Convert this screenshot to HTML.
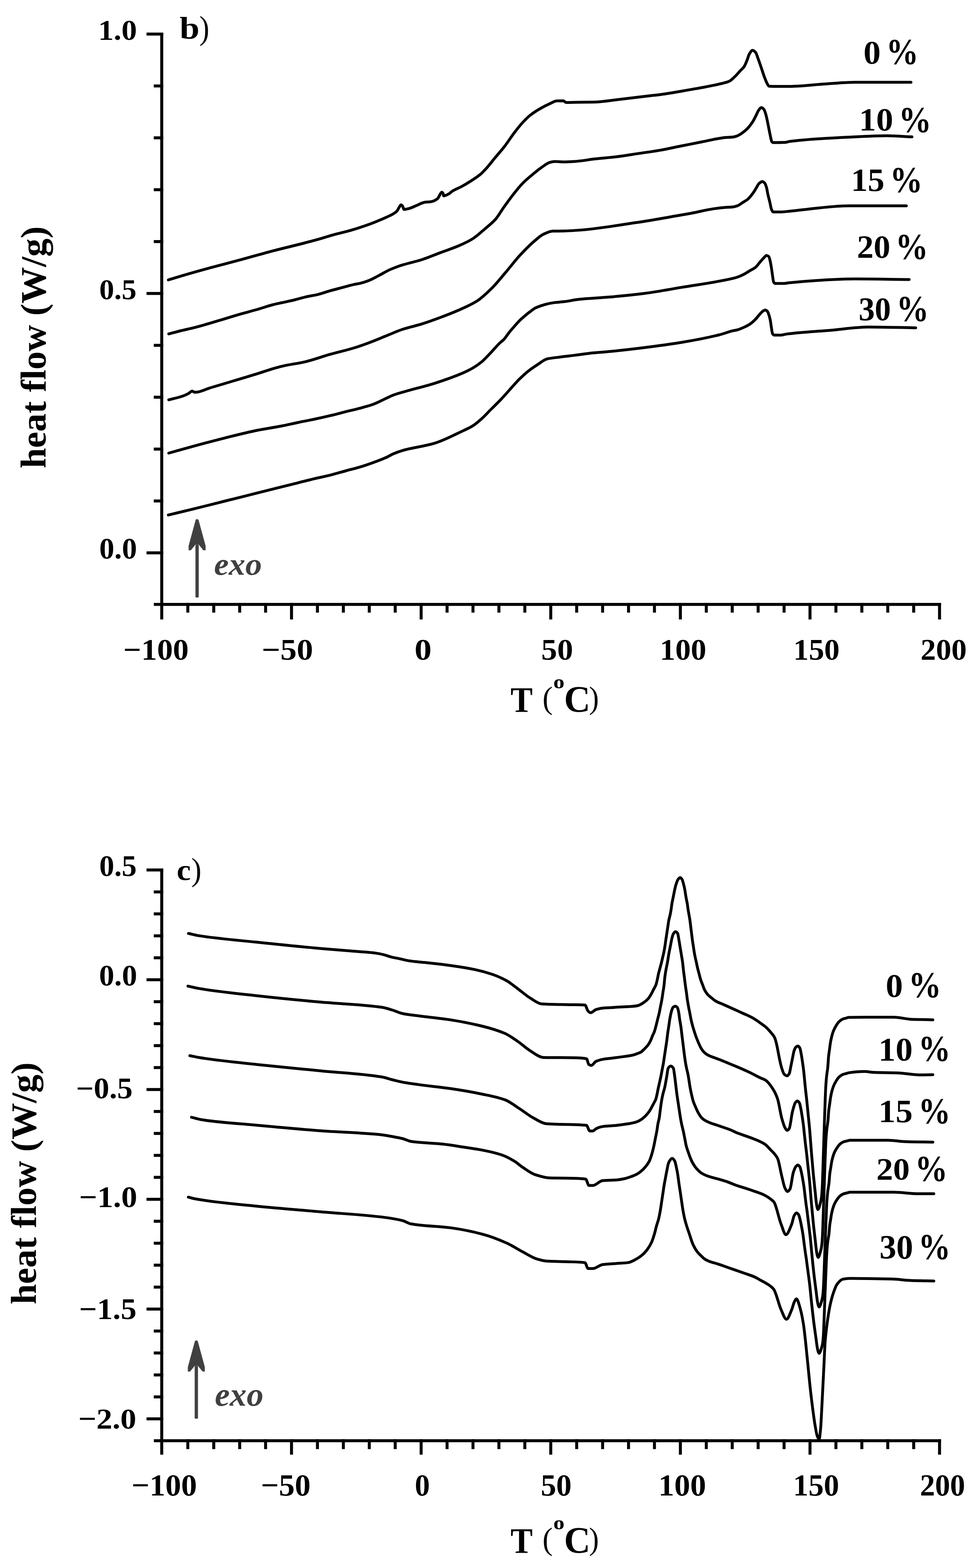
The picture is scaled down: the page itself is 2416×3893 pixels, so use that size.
<!DOCTYPE html>
<html><head><meta charset="utf-8"><title>DSC heat flow curves</title>
<style>html,body{margin:0;padding:0;background:#fff;}svg{display:block;}</style>
</head><body>
<svg xmlns="http://www.w3.org/2000/svg" width="2416" height="3893" viewBox="0 0 2416 3893" font-family="'Liberation Serif', 'DejaVu Serif', serif">
<rect width="2416" height="3893" fill="#fff"/>
<rect x="397.90" y="81.00" width="7.40" height="1423.30" fill="#000"/>
<rect x="382.00" y="1496.90" width="1954.60" height="7.40" fill="#000"/>
<rect x="363.80" y="80.90" width="41.50" height="7.40" fill="#000"/>
<rect x="363.80" y="724.90" width="41.50" height="7.40" fill="#000"/>
<rect x="363.80" y="1368.90" width="41.50" height="7.40" fill="#000"/>
<rect x="381.80" y="209.70" width="23.50" height="7.40" fill="#000"/>
<rect x="381.80" y="338.50" width="23.50" height="7.40" fill="#000"/>
<rect x="381.80" y="467.30" width="23.50" height="7.40" fill="#000"/>
<rect x="381.80" y="596.10" width="23.50" height="7.40" fill="#000"/>
<rect x="381.80" y="853.70" width="23.50" height="7.40" fill="#000"/>
<rect x="381.80" y="982.50" width="23.50" height="7.40" fill="#000"/>
<rect x="381.80" y="1111.30" width="23.50" height="7.40" fill="#000"/>
<rect x="381.80" y="1240.10" width="23.50" height="7.40" fill="#000"/>
<rect x="397.90" y="1496.90" width="7.40" height="41.10" fill="#000"/>
<rect x="462.67" y="1496.90" width="7.40" height="24.10" fill="#000"/>
<rect x="527.04" y="1496.90" width="7.40" height="24.10" fill="#000"/>
<rect x="591.41" y="1496.90" width="7.40" height="24.10" fill="#000"/>
<rect x="655.78" y="1496.90" width="7.40" height="24.10" fill="#000"/>
<rect x="720.15" y="1496.90" width="7.40" height="41.10" fill="#000"/>
<rect x="784.52" y="1496.90" width="7.40" height="24.10" fill="#000"/>
<rect x="848.89" y="1496.90" width="7.40" height="24.10" fill="#000"/>
<rect x="913.26" y="1496.90" width="7.40" height="24.10" fill="#000"/>
<rect x="977.63" y="1496.90" width="7.40" height="24.10" fill="#000"/>
<rect x="1042.00" y="1496.90" width="7.40" height="41.10" fill="#000"/>
<rect x="1106.37" y="1496.90" width="7.40" height="24.10" fill="#000"/>
<rect x="1170.74" y="1496.90" width="7.40" height="24.10" fill="#000"/>
<rect x="1235.11" y="1496.90" width="7.40" height="24.10" fill="#000"/>
<rect x="1299.48" y="1496.90" width="7.40" height="24.10" fill="#000"/>
<rect x="1363.85" y="1496.90" width="7.40" height="41.10" fill="#000"/>
<rect x="1428.22" y="1496.90" width="7.40" height="24.10" fill="#000"/>
<rect x="1492.59" y="1496.90" width="7.40" height="24.10" fill="#000"/>
<rect x="1556.96" y="1496.90" width="7.40" height="24.10" fill="#000"/>
<rect x="1621.33" y="1496.90" width="7.40" height="24.10" fill="#000"/>
<rect x="1685.70" y="1496.90" width="7.40" height="41.10" fill="#000"/>
<rect x="1750.07" y="1496.90" width="7.40" height="24.10" fill="#000"/>
<rect x="1814.44" y="1496.90" width="7.40" height="24.10" fill="#000"/>
<rect x="1878.81" y="1496.90" width="7.40" height="24.10" fill="#000"/>
<rect x="1943.18" y="1496.90" width="7.40" height="24.10" fill="#000"/>
<rect x="2007.55" y="1496.90" width="7.40" height="41.10" fill="#000"/>
<rect x="2071.92" y="1496.90" width="7.40" height="24.10" fill="#000"/>
<rect x="2136.29" y="1496.90" width="7.40" height="24.10" fill="#000"/>
<rect x="2200.66" y="1496.90" width="7.40" height="24.10" fill="#000"/>
<rect x="2265.03" y="1496.90" width="7.40" height="24.10" fill="#000"/>
<rect x="2329.20" y="1496.90" width="7.40" height="41.10" fill="#000"/>
<rect x="397.90" y="2156.60" width="7.40" height="1424.10" fill="#000"/>
<rect x="382.00" y="3573.30" width="1954.60" height="7.40" fill="#000"/>
<rect x="363.80" y="2156.25" width="41.50" height="7.40" fill="#000"/>
<rect x="363.80" y="2428.80" width="41.50" height="7.40" fill="#000"/>
<rect x="363.80" y="2701.35" width="41.50" height="7.40" fill="#000"/>
<rect x="363.80" y="2973.90" width="41.50" height="7.40" fill="#000"/>
<rect x="363.80" y="3246.45" width="41.50" height="7.40" fill="#000"/>
<rect x="363.80" y="3519.00" width="41.50" height="7.40" fill="#000"/>
<rect x="381.80" y="2210.76" width="23.50" height="7.40" fill="#000"/>
<rect x="381.80" y="2265.27" width="23.50" height="7.40" fill="#000"/>
<rect x="381.80" y="2319.78" width="23.50" height="7.40" fill="#000"/>
<rect x="381.80" y="2374.29" width="23.50" height="7.40" fill="#000"/>
<rect x="381.80" y="2483.31" width="23.50" height="7.40" fill="#000"/>
<rect x="381.80" y="2537.82" width="23.50" height="7.40" fill="#000"/>
<rect x="381.80" y="2592.33" width="23.50" height="7.40" fill="#000"/>
<rect x="381.80" y="2646.84" width="23.50" height="7.40" fill="#000"/>
<rect x="381.80" y="2755.86" width="23.50" height="7.40" fill="#000"/>
<rect x="381.80" y="2810.37" width="23.50" height="7.40" fill="#000"/>
<rect x="381.80" y="2864.88" width="23.50" height="7.40" fill="#000"/>
<rect x="381.80" y="2919.39" width="23.50" height="7.40" fill="#000"/>
<rect x="381.80" y="3028.41" width="23.50" height="7.40" fill="#000"/>
<rect x="381.80" y="3082.92" width="23.50" height="7.40" fill="#000"/>
<rect x="381.80" y="3137.43" width="23.50" height="7.40" fill="#000"/>
<rect x="381.80" y="3191.94" width="23.50" height="7.40" fill="#000"/>
<rect x="381.80" y="3300.96" width="23.50" height="7.40" fill="#000"/>
<rect x="381.80" y="3355.47" width="23.50" height="7.40" fill="#000"/>
<rect x="381.80" y="3409.98" width="23.50" height="7.40" fill="#000"/>
<rect x="381.80" y="3464.49" width="23.50" height="7.40" fill="#000"/>
<rect x="397.90" y="3573.30" width="7.40" height="38.30" fill="#000"/>
<rect x="462.67" y="3573.30" width="7.40" height="24.50" fill="#000"/>
<rect x="527.04" y="3573.30" width="7.40" height="24.50" fill="#000"/>
<rect x="591.41" y="3573.30" width="7.40" height="24.50" fill="#000"/>
<rect x="655.78" y="3573.30" width="7.40" height="24.50" fill="#000"/>
<rect x="720.15" y="3573.30" width="7.40" height="38.30" fill="#000"/>
<rect x="784.52" y="3573.30" width="7.40" height="24.50" fill="#000"/>
<rect x="848.89" y="3573.30" width="7.40" height="24.50" fill="#000"/>
<rect x="913.26" y="3573.30" width="7.40" height="24.50" fill="#000"/>
<rect x="977.63" y="3573.30" width="7.40" height="24.50" fill="#000"/>
<rect x="1042.00" y="3573.30" width="7.40" height="38.30" fill="#000"/>
<rect x="1106.37" y="3573.30" width="7.40" height="24.50" fill="#000"/>
<rect x="1170.74" y="3573.30" width="7.40" height="24.50" fill="#000"/>
<rect x="1235.11" y="3573.30" width="7.40" height="24.50" fill="#000"/>
<rect x="1299.48" y="3573.30" width="7.40" height="24.50" fill="#000"/>
<rect x="1363.85" y="3573.30" width="7.40" height="38.30" fill="#000"/>
<rect x="1428.22" y="3573.30" width="7.40" height="24.50" fill="#000"/>
<rect x="1492.59" y="3573.30" width="7.40" height="24.50" fill="#000"/>
<rect x="1556.96" y="3573.30" width="7.40" height="24.50" fill="#000"/>
<rect x="1621.33" y="3573.30" width="7.40" height="24.50" fill="#000"/>
<rect x="1685.70" y="3573.30" width="7.40" height="38.30" fill="#000"/>
<rect x="1750.07" y="3573.30" width="7.40" height="24.50" fill="#000"/>
<rect x="1814.44" y="3573.30" width="7.40" height="24.50" fill="#000"/>
<rect x="1878.81" y="3573.30" width="7.40" height="24.50" fill="#000"/>
<rect x="1943.18" y="3573.30" width="7.40" height="24.50" fill="#000"/>
<rect x="2007.55" y="3573.30" width="7.40" height="38.30" fill="#000"/>
<rect x="2071.92" y="3573.30" width="7.40" height="24.50" fill="#000"/>
<rect x="2136.29" y="3573.30" width="7.40" height="24.50" fill="#000"/>
<rect x="2200.66" y="3573.30" width="7.40" height="24.50" fill="#000"/>
<rect x="2265.03" y="3573.30" width="7.40" height="24.50" fill="#000"/>
<rect x="2329.20" y="3573.30" width="7.40" height="38.30" fill="#000"/>
<text transform="translate(243.63,98.92) scale(1.0676,1)" font-size="72.21" font-weight="bold" font-style="normal" fill="#000">1.0</text>
<text transform="translate(246.53,742.92) scale(1.0243,1)" font-size="72.21" font-weight="bold" font-style="normal" fill="#000">0.5</text>
<text transform="translate(246.49,1387.20) scale(1.0206,1)" font-size="73.38" font-weight="bold" font-style="normal" fill="#000">0.0</text>
<text transform="translate(306.08,1638.45) scale(1.0497,1)" font-size="74.81" font-weight="bold" font-style="normal" fill="#000">−100</text>
<text transform="translate(649.73,1638.45) scale(1.0883,1)" font-size="74.81" font-weight="bold" font-style="normal" fill="#000">−50</text>
<text transform="translate(1029.21,1638.45) scale(1.1354,1)" font-size="74.81" font-weight="bold" font-style="normal" fill="#000">0</text>
<text transform="translate(1343.83,1638.45) scale(1.0577,1)" font-size="74.81" font-weight="bold" font-style="normal" fill="#000">50</text>
<text transform="translate(1638.13,1638.45) scale(1.0316,1)" font-size="74.81" font-weight="bold" font-style="normal" fill="#000">100</text>
<text transform="translate(1969.87,1638.45) scale(1.0248,1)" font-size="74.81" font-weight="bold" font-style="normal" fill="#000">150</text>
<text transform="translate(2285.75,1638.45) scale(1.0222,1)" font-size="74.81" font-weight="bold" font-style="normal" fill="#000">200</text>
<text transform="translate(246.61,2174.57) scale(1.0173,1)" font-size="73.04" font-weight="bold" font-style="normal" fill="#000">0.5</text>
<text transform="translate(246.07,2446.87) scale(1.0306,1)" font-size="73.33" font-weight="bold" font-style="normal" fill="#000">0.0</text>
<text transform="translate(188.85,2726.57) scale(1.0531,1)" font-size="73.33" font-weight="bold" font-style="normal" fill="#000">−0.5</text>
<text transform="translate(196.13,2997.15) scale(1.0658,1)" font-size="74.52" font-weight="bold" font-style="normal" fill="#000">−1.0</text>
<text transform="translate(196.18,3275.16) scale(1.0589,1)" font-size="74.07" font-weight="bold" font-style="normal" fill="#000">−1.5</text>
<text transform="translate(194.13,3547.37) scale(1.0888,1)" font-size="72.89" font-weight="bold" font-style="normal" fill="#000">−2.0</text>
<text transform="translate(326.58,3712.84) scale(1.0274,1)" font-size="76.44" font-weight="bold" font-style="normal" fill="#000">−100</text>
<text transform="translate(647.77,3712.84) scale(1.0288,1)" font-size="76.44" font-weight="bold" font-style="normal" fill="#000">−50</text>
<text transform="translate(1029.99,3712.84) scale(0.9788,1)" font-size="76.44" font-weight="bold" font-style="normal" fill="#000">0</text>
<text transform="translate(1342.73,3712.84) scale(1.0040,1)" font-size="76.44" font-weight="bold" font-style="normal" fill="#000">50</text>
<text transform="translate(1634.68,3712.84) scale(1.0333,1)" font-size="76.44" font-weight="bold" font-style="normal" fill="#000">100</text>
<text transform="translate(1969.20,3712.84) scale(0.9983,1)" font-size="76.44" font-weight="bold" font-style="normal" fill="#000">150</text>
<text transform="translate(2284.32,3712.84) scale(0.9783,1)" font-size="76.44" font-weight="bold" font-style="normal" fill="#000">200</text>
<text transform="translate(1267.76,1766.50) scale(0.9316,1)" font-size="88.40" font-weight="bold" font-style="normal" fill="#000">T</text>
<text transform="translate(1347.06,1759.14) scale(0.9816,1)" font-size="77.91" font-weight="normal" font-style="normal" fill="#000">(</text>
<text transform="translate(1373.93,1709.32) scale(1.1440,1)" font-size="48.33" font-weight="bold" font-style="normal" fill="#000">o</text>
<text transform="translate(1400.46,1767.08) scale(0.9844,1)" font-size="92.19" font-weight="bold" font-style="normal" fill="#000">C</text>
<text transform="translate(1462.60,1759.14) scale(0.9471,1)" font-size="77.91" font-weight="normal" font-style="normal" fill="#000">)</text>
<text transform="translate(1267.76,3854.60) scale(0.9316,1)" font-size="88.40" font-weight="bold" font-style="normal" fill="#000">T</text>
<text transform="translate(1347.06,3847.24) scale(0.9816,1)" font-size="77.91" font-weight="normal" font-style="normal" fill="#000">(</text>
<text transform="translate(1373.93,3797.42) scale(1.1440,1)" font-size="48.33" font-weight="bold" font-style="normal" fill="#000">o</text>
<text transform="translate(1400.46,3855.18) scale(0.9844,1)" font-size="92.19" font-weight="bold" font-style="normal" fill="#000">C</text>
<text transform="translate(1462.60,3847.24) scale(0.9471,1)" font-size="77.91" font-weight="normal" font-style="normal" fill="#000">)</text>
<text transform="translate(113.30,1162.87) rotate(-90) scale(1.0348,1)" font-size="87.91" font-weight="bold">heat flow (W/g)</text>
<text transform="translate(89.00,3238.57) rotate(-90) scale(1.0348,1)" font-size="87.91" font-weight="bold">heat flow (W/g)</text>
<text transform="translate(446.09,95.71) scale(1.1194,1)" font-size="79.29" font-weight="bold" font-style="normal" fill="#000">b</text>
<text transform="translate(495.09,96.97) scale(0.9096,1)" font-size="81.54" font-weight="normal" font-style="normal" fill="#000">)</text>
<text transform="translate(438.64,2184.86) scale(1.0617,1)" font-size="74.37" font-weight="bold" font-style="normal" fill="#000">c</text>
<text transform="translate(474.94,2186.09) scale(0.9350,1)" font-size="80.99" font-weight="normal" font-style="normal" fill="#000">)</text>
<text transform="translate(2144.09,157.57) scale(1.0324,1)" font-size="82.96" font-weight="bold" font-style="normal" fill="#000">0</text>
<text transform="translate(2200.14,159.46) scale(0.8824,1)" font-size="91.37" font-weight="bold" font-style="normal" fill="#000">%</text>
<text transform="translate(2133.02,324.00) scale(1.0556,1)" font-size="80.30" font-weight="bold" font-style="normal" fill="#000">10</text>
<text transform="translate(2231.33,327.65) scale(0.8890,1)" font-size="91.81" font-weight="bold" font-style="normal" fill="#000">%</text>
<text transform="translate(2112.94,474.09) scale(1.0315,1)" font-size="80.74" font-weight="bold" font-style="normal" fill="#000">15</text>
<text transform="translate(2209.55,477.46) scale(0.8920,1)" font-size="91.37" font-weight="bold" font-style="normal" fill="#000">%</text>
<text transform="translate(2127.77,640.49) scale(1.0266,1)" font-size="80.89" font-weight="bold" font-style="normal" fill="#000">20</text>
<text transform="translate(2223.35,643.06) scale(0.8934,1)" font-size="91.22" font-weight="bold" font-style="normal" fill="#000">%</text>
<text transform="translate(2131.89,795.47) scale(0.9669,1)" font-size="82.96" font-weight="bold" font-style="normal" fill="#000">30</text>
<text transform="translate(2225.64,797.36) scale(0.8824,1)" font-size="91.37" font-weight="bold" font-style="normal" fill="#000">%</text>
<text transform="translate(2199.30,2475.47) scale(1.0351,1)" font-size="82.52" font-weight="bold" font-style="normal" fill="#000">0</text>
<text transform="translate(2255.85,2476.36) scale(0.8934,1)" font-size="91.22" font-weight="bold" font-style="normal" fill="#000">%</text>
<text transform="translate(2181.20,2632.77) scale(1.0299,1)" font-size="82.52" font-weight="bold" font-style="normal" fill="#000">10</text>
<text transform="translate(2280.20,2633.66) scale(0.8784,1)" font-size="91.07" font-weight="bold" font-style="normal" fill="#000">%</text>
<text transform="translate(2181.20,2786.49) scale(1.0545,1)" font-size="80.59" font-weight="bold" font-style="normal" fill="#000">15</text>
<text transform="translate(2280.20,2788.56) scale(0.8784,1)" font-size="91.07" font-weight="bold" font-style="normal" fill="#000">%</text>
<text transform="translate(2175.98,2929.11) scale(1.0503,1)" font-size="78.96" font-weight="bold" font-style="normal" fill="#000">20</text>
<text transform="translate(2271.66,2932.36) scale(0.8935,1)" font-size="91.07" font-weight="bold" font-style="normal" fill="#000">%</text>
<text transform="translate(2183.66,3125.16) scale(0.9926,1)" font-size="84.30" font-weight="bold" font-style="normal" fill="#000">30</text>
<text transform="translate(2280.20,3126.06) scale(0.8770,1)" font-size="91.22" font-weight="bold" font-style="normal" fill="#000">%</text>
<rect x="485.30" y="1352.20" width="8.20" height="131.20" rx="2" fill="#404040"/>
<polygon points="489.40,1288.60 492.90,1290.60 510.50,1355.20 510.50,1366.20 505.00,1366.20 493.50,1352.20 485.30,1352.20 473.80,1366.20 468.30,1366.20 468.30,1355.20 485.90,1290.60" fill="#404040"/>
<rect x="483.40" y="3391.20" width="8.20" height="131.00" rx="2" fill="#404040"/>
<polygon points="487.50,3327.60 491.00,3329.60 508.60,3394.20 508.60,3405.20 503.10,3405.20 491.60,3391.20 483.40,3391.20 471.90,3405.20 466.40,3405.20 466.40,3394.20 484.00,3329.60" fill="#404040"/>
<text transform="translate(531.55,1427.21) scale(1.0470,1)" font-size="78.54" font-weight="bold" font-style="italic" fill="#404040">exo</text>
<text transform="translate(533.52,3489.68) scale(1.0237,1)" font-size="81.67" font-weight="bold" font-style="italic" fill="#404040">exo</text>
<path d="M418.00,695.00C425.23,692.77 432.47,690.46 439.70,688.30C466.13,680.41 492.57,672.95 519.00,665.70C545.47,658.44 571.93,651.83 598.40,644.70C624.87,637.57 651.33,629.84 677.80,622.90C704.23,615.97 730.67,609.94 757.10,603.00C771.40,599.25 785.70,595.41 800.00,591.30C808.83,588.76 817.67,585.72 826.50,583.30C835.30,580.89 844.10,579.01 852.90,576.70C861.73,574.38 870.57,572.04 879.40,569.40C888.20,566.77 897.00,563.86 905.80,560.80C914.63,557.73 923.47,554.41 932.30,550.90C941.10,547.40 949.90,543.99 958.70,539.70C967.53,535.39 976.37,532.87 985.20,524.50C987.13,522.67 989.07,517.80 991.00,515.00C992.63,512.63 994.27,508.60 995.90,508.60C997.00,508.60 998.10,509.89 999.20,511.10C1000.57,512.61 1001.93,520.00 1003.30,520.00C1007.43,520.00 1011.57,518.73 1015.70,517.70C1021.23,516.32 1026.77,513.29 1032.30,511.10C1040.00,508.05 1047.70,502.92 1055.40,502.00C1059.83,501.47 1064.27,501.55 1068.70,501.00C1074.73,500.25 1080.77,497.70 1086.80,492.90C1088.53,491.52 1090.27,486.68 1092.00,484.00C1093.60,481.52 1095.20,477.20 1096.80,477.20C1097.87,477.20 1098.93,478.21 1100.00,479.70C1100.57,480.49 1101.13,486.30 1101.70,486.30C1106.13,486.30 1110.57,483.41 1115.00,481.00C1117.70,479.53 1120.40,476.32 1123.10,474.60C1130.83,469.69 1138.57,467.21 1146.30,463.00C1154.00,458.81 1161.70,454.16 1169.40,449.20C1177.13,444.22 1184.87,439.46 1192.60,433.00C1197.23,429.13 1201.87,424.12 1206.50,419.10C1214.20,410.75 1221.90,400.55 1229.60,391.30C1237.33,382.01 1245.07,373.50 1252.80,363.50C1260.50,353.55 1268.20,341.25 1275.90,331.10C1282.07,322.97 1288.23,314.86 1294.40,308.00C1301.37,300.25 1308.33,292.72 1315.30,287.10C1324.57,279.62 1333.83,273.88 1343.10,268.60C1350.80,264.21 1358.50,260.41 1366.20,257.00C1371.60,254.61 1377.00,250.63 1382.40,250.50C1387.80,250.37 1393.20,250.30 1398.60,250.30C1400.93,250.30 1403.27,254.50 1405.60,254.50C1413.73,254.50 1421.87,254.12 1430.00,254.00C1444.70,253.78 1459.40,253.79 1474.10,253.50C1493.50,253.12 1512.90,249.64 1532.30,247.50C1558.73,244.58 1585.17,241.05 1611.60,238.00C1621.07,236.91 1630.53,236.02 1640.00,234.80C1648.83,233.66 1657.67,232.23 1666.50,230.80C1675.30,229.38 1684.10,227.73 1692.90,226.20C1701.73,224.66 1710.57,223.14 1719.40,221.60C1728.20,220.07 1737.00,218.64 1745.80,217.00C1754.63,215.35 1763.47,213.58 1772.30,211.70C1781.10,209.83 1789.90,208.17 1798.70,205.70C1803.13,204.46 1807.57,203.29 1812.00,201.10C1816.40,198.93 1820.80,194.03 1825.20,189.80C1829.60,185.57 1834.00,179.98 1838.40,175.30C1841.37,172.15 1844.33,170.29 1847.30,166.10C1849.93,162.38 1852.57,155.33 1855.20,148.90C1856.97,144.58 1858.73,137.36 1860.50,134.40C1863.17,129.93 1865.83,125.10 1868.50,125.10C1871.13,125.10 1873.77,127.50 1876.40,130.40C1878.17,132.34 1879.93,139.02 1881.70,143.70C1884.33,150.68 1886.97,158.45 1889.60,166.10C1892.27,173.84 1894.93,182.89 1897.60,189.90C1900.23,196.82 1902.87,204.06 1905.50,208.50C1906.83,210.75 1908.17,213.87 1909.50,214.00C1912.57,214.29 1915.63,214.40 1918.70,214.40C1932.47,214.40 1946.23,214.40 1960.00,214.40C1988.13,214.40 2016.27,210.55 2044.40,208.80C2070.63,207.17 2096.87,204.20 2123.10,204.20C2169.40,204.20 2215.70,204.20 2262.00,204.20" fill="none" stroke="#000" stroke-width="7" stroke-linejoin="round" stroke-linecap="round"/>
<path d="M419.00,829.00C429.20,826.33 439.40,823.50 449.60,821.00C459.53,818.56 469.47,816.59 479.40,814.10C492.60,810.79 505.80,806.99 519.00,803.20C532.23,799.40 545.47,795.27 558.70,791.30C571.93,787.33 585.17,783.19 598.40,779.40C611.63,775.61 624.87,772.31 638.10,768.50C651.33,764.69 664.57,759.87 677.80,756.50C685.20,754.62 692.60,753.14 700.00,751.50C709.93,749.30 719.87,747.38 729.80,745.00C739.70,742.63 749.60,739.37 759.50,737.10C769.43,734.82 779.37,733.49 789.30,731.10C799.20,728.72 809.10,725.00 819.00,722.20C828.93,719.39 838.87,716.85 848.80,714.20C858.73,711.55 868.67,708.46 878.60,706.30C883.87,705.15 889.13,704.55 894.40,703.30C902.37,701.41 910.33,698.59 918.30,695.40C924.90,692.76 931.50,688.90 938.10,685.50C948.03,680.38 957.97,674.09 967.90,669.60C974.50,666.62 981.10,664.05 987.70,661.70C991.80,660.24 995.90,658.94 1000.00,657.70C1015.43,653.03 1030.87,649.89 1046.30,645.00C1061.73,640.11 1077.17,633.38 1092.60,627.60C1108.03,621.82 1123.47,616.96 1138.90,610.30C1150.47,605.31 1162.03,600.10 1173.60,592.90C1183.63,586.66 1193.67,577.22 1203.70,568.60C1212.97,560.64 1222.23,553.72 1231.50,543.10C1237.67,536.03 1243.83,524.71 1250.00,516.00C1257.87,504.89 1265.73,493.92 1273.60,483.90C1281.33,474.05 1289.07,464.05 1296.80,456.10C1304.50,448.18 1312.20,441.81 1319.90,435.30C1327.63,428.76 1335.37,422.10 1343.10,416.80C1350.80,411.52 1358.50,404.76 1366.20,402.90C1370.07,401.96 1373.93,401.00 1377.80,401.00C1385.20,401.00 1392.60,402.00 1400.00,402.00C1408.83,402.00 1417.67,401.42 1426.50,400.90C1444.13,399.86 1461.77,396.26 1479.40,394.30C1497.03,392.34 1514.67,391.11 1532.30,389.00C1549.93,386.89 1567.57,383.75 1585.20,381.10C1602.83,378.45 1620.47,376.14 1638.10,373.10C1655.73,370.06 1673.37,366.02 1691.00,362.50C1708.63,358.98 1726.27,355.53 1743.90,352.00C1757.13,349.35 1770.37,346.25 1783.60,344.00C1789.07,343.07 1794.53,342.00 1800.00,341.50C1806.67,340.88 1813.33,340.94 1820.00,340.20C1823.10,339.86 1826.20,338.94 1829.30,337.90C1833.90,336.35 1838.50,333.17 1843.10,330.00C1847.73,326.81 1852.37,322.84 1857.00,318.00C1861.03,313.79 1865.07,308.50 1869.10,302.20C1871.87,297.88 1874.63,291.89 1877.40,286.50C1879.57,282.28 1881.73,276.39 1883.90,273.50C1886.07,270.61 1888.23,267.00 1890.40,267.00C1892.57,267.00 1894.73,269.16 1896.90,271.70C1898.43,273.49 1899.97,278.70 1901.50,283.70C1902.73,287.72 1903.97,293.72 1905.20,299.40C1906.43,305.08 1907.67,311.82 1908.90,318.00C1910.13,324.18 1911.37,331.02 1912.60,336.50C1913.83,341.98 1915.07,349.73 1916.30,351.30C1917.53,352.87 1918.77,354.10 1920.00,354.10C1929.87,354.10 1939.73,353.96 1949.60,353.60C1953.07,353.47 1956.53,351.74 1960.00,351.30C2014.37,344.45 2068.73,342.27 2123.10,339.80C2149.37,338.60 2175.63,337.00 2201.90,337.00C2222.73,337.00 2243.57,338.87 2264.40,339.80" fill="none" stroke="#000" stroke-width="7" stroke-linejoin="round" stroke-linecap="round"/>
<path d="M419.00,992.70C431.20,989.37 443.40,987.06 455.60,982.70C459.73,981.22 463.87,979.23 468.00,977.00C471.13,975.31 474.27,971.00 477.40,971.00C479.27,971.00 481.13,974.00 483.00,974.00C485.33,974.00 487.67,973.74 490.00,973.50C499.67,972.50 509.33,966.95 519.00,963.90C532.23,959.73 545.47,955.97 558.70,952.00C571.93,948.03 585.17,944.07 598.40,940.10C611.63,936.13 624.87,932.33 638.10,928.20C651.33,924.07 664.57,919.17 677.80,915.30C685.20,913.14 692.60,911.01 700.00,909.30C719.83,904.71 739.67,902.47 759.50,897.80C779.33,893.13 799.17,885.51 819.00,879.90C838.87,874.28 858.73,870.05 878.60,864.00C891.83,859.97 905.07,855.13 918.30,850.20C931.50,845.28 944.70,839.58 957.90,834.30C971.93,828.68 985.97,822.10 1000.00,817.50C1015.43,812.44 1030.87,809.47 1046.30,804.70C1061.73,799.93 1077.17,794.26 1092.60,788.50C1108.03,782.74 1123.47,776.85 1138.90,770.00C1154.33,763.15 1169.77,756.80 1185.20,746.90C1196.77,739.48 1208.33,728.18 1219.90,716.80C1231.47,705.42 1243.03,690.89 1254.60,677.40C1266.20,663.87 1277.80,648.35 1289.40,635.70C1300.97,623.09 1312.53,610.93 1324.10,601.00C1332.73,593.59 1341.37,585.21 1350.00,581.30C1357.67,577.83 1365.33,573.97 1373.00,573.80C1382.00,573.60 1391.00,573.66 1400.00,573.50C1417.63,573.19 1435.27,571.67 1452.90,570.20C1470.53,568.73 1488.17,566.00 1505.80,563.60C1523.43,561.20 1541.07,558.35 1558.70,555.70C1576.33,553.05 1593.97,550.55 1611.60,547.70C1629.27,544.84 1646.93,541.59 1664.60,538.50C1682.23,535.42 1699.87,532.50 1717.50,529.20C1735.13,525.90 1752.77,521.21 1770.40,518.60C1780.27,517.14 1790.13,515.82 1800.00,515.00C1806.67,514.45 1813.33,514.43 1820.00,513.70C1823.70,513.29 1827.40,512.22 1831.10,510.90C1835.10,509.48 1839.10,506.05 1843.10,503.50C1847.73,500.54 1852.37,498.22 1857.00,494.30C1861.03,490.89 1865.07,485.80 1869.10,480.40C1871.87,476.70 1874.63,471.81 1877.40,467.40C1879.87,463.47 1882.33,457.49 1884.80,455.40C1887.57,453.06 1890.33,450.70 1893.10,450.70C1894.97,450.70 1896.83,452.42 1898.70,454.40C1900.23,456.02 1901.77,460.52 1903.30,465.60C1904.53,469.69 1905.77,478.64 1907.00,484.10C1908.57,491.03 1910.13,495.99 1911.70,502.60C1912.93,507.80 1914.17,516.47 1915.40,519.30C1916.93,522.82 1918.47,526.20 1920.00,526.20C1926.80,526.20 1933.60,526.20 1940.40,526.20C1946.93,526.20 1953.47,524.99 1960.00,524.40C2009.77,519.88 2059.53,511.10 2109.30,511.10C2156.37,511.10 2203.43,511.10 2250.50,511.10" fill="none" stroke="#000" stroke-width="7" stroke-linejoin="round" stroke-linecap="round"/>
<path d="M419.00,1125.00C439.13,1119.37 459.27,1113.56 479.40,1108.10C505.83,1100.93 532.27,1093.88 558.70,1087.30C585.17,1080.71 611.63,1073.84 638.10,1068.50C658.73,1064.34 679.37,1061.53 700.00,1057.50C713.23,1054.91 726.47,1051.75 739.70,1049.00C752.93,1046.25 766.17,1043.81 779.40,1041.00C792.60,1038.19 805.80,1035.22 819.00,1032.10C832.23,1028.97 845.47,1025.50 858.70,1022.20C871.93,1018.90 885.17,1015.93 898.40,1012.30C908.33,1009.57 918.27,1006.95 928.20,1003.30C938.10,999.67 948.00,993.92 957.90,989.40C964.53,986.37 971.17,982.94 977.80,980.50C985.20,977.78 992.60,975.79 1000.00,973.60C1026.47,965.76 1052.93,959.96 1079.40,951.60C1102.93,944.16 1126.47,935.98 1150.00,925.80C1157.70,922.47 1165.40,918.78 1173.10,914.30C1180.83,909.81 1188.57,904.47 1196.30,898.10C1204.00,891.76 1211.70,882.89 1219.40,874.90C1227.13,866.88 1234.87,856.98 1242.60,850.00C1245.07,847.77 1247.53,846.41 1250.00,844.00C1254.40,839.70 1258.80,832.27 1263.20,826.80C1267.63,821.29 1272.07,816.08 1276.50,811.00C1280.90,805.96 1285.30,800.77 1289.70,796.40C1294.10,792.03 1298.50,788.24 1302.90,784.50C1307.30,780.76 1311.70,777.17 1316.10,773.90C1320.53,770.60 1324.97,766.95 1329.40,764.70C1333.80,762.47 1338.20,760.92 1342.60,759.40C1347.00,757.88 1351.40,756.48 1355.80,755.40C1362.43,753.77 1369.07,752.29 1375.70,751.40C1384.50,750.22 1393.30,749.86 1402.10,748.80C1413.57,747.42 1425.03,744.54 1436.50,743.30C1462.97,740.45 1489.43,739.62 1515.90,737.30C1543.93,734.84 1571.97,732.06 1600.00,728.50C1630.87,724.58 1661.73,718.59 1692.60,713.40C1735.07,706.26 1777.53,701.11 1820.00,691.20C1823.70,690.34 1827.40,689.27 1831.10,688.00C1836.67,686.08 1842.23,683.46 1847.80,680.60C1852.43,678.22 1857.07,674.98 1861.70,672.20C1866.33,669.42 1870.97,667.55 1875.60,663.90C1879.90,660.51 1884.20,653.94 1888.50,649.10C1891.30,645.95 1894.10,642.49 1896.90,639.80C1899.03,637.75 1901.17,634.30 1903.30,634.30C1905.17,634.30 1907.03,635.35 1908.90,637.00C1910.13,638.09 1911.37,643.94 1912.60,649.10C1913.53,653.00 1914.47,659.04 1915.40,664.80C1916.30,670.35 1917.20,677.56 1918.10,683.30C1919.03,689.25 1919.97,698.35 1920.90,700.00C1922.13,702.18 1923.37,703.70 1924.60,703.70C1932.03,703.70 1939.47,703.70 1946.90,703.70C1951.27,703.70 1955.63,702.30 1960.00,701.90C2014.37,696.94 2068.73,692.60 2123.10,692.60C2167.87,692.60 2212.63,693.53 2257.40,694.00" fill="none" stroke="#000" stroke-width="7" stroke-linejoin="round" stroke-linecap="round"/>
<path d="M418.00,1278.60C438.47,1273.70 458.93,1268.91 479.40,1263.90C505.83,1257.43 532.27,1250.61 558.70,1244.00C585.17,1237.38 611.63,1230.81 638.10,1224.20C658.73,1219.04 679.37,1213.86 700.00,1208.70C713.23,1205.39 726.47,1202.12 739.70,1198.80C752.93,1195.48 766.17,1191.94 779.40,1188.80C792.60,1185.66 805.80,1183.16 819.00,1179.90C832.23,1176.63 845.47,1172.63 858.70,1169.00C871.93,1165.37 885.17,1162.17 898.40,1158.10C911.63,1154.03 924.87,1149.17 938.10,1144.20C944.70,1141.72 951.30,1139.24 957.90,1136.30C964.53,1133.35 971.17,1129.07 977.80,1126.30C985.20,1123.21 992.60,1120.54 1000.00,1118.40C1026.47,1110.75 1052.93,1108.36 1079.40,1100.40C1102.93,1093.32 1126.47,1080.55 1150.00,1069.40C1157.70,1065.75 1165.40,1062.54 1173.10,1057.80C1180.83,1053.04 1188.57,1046.18 1196.30,1039.30C1204.00,1032.45 1211.70,1023.80 1219.40,1016.10C1227.13,1008.37 1234.87,1001.10 1242.60,993.00C1250.30,984.94 1258.00,975.98 1265.70,967.50C1273.43,958.98 1281.17,949.65 1288.90,942.00C1296.60,934.38 1304.30,927.26 1312.00,921.20C1319.73,915.12 1327.47,910.00 1335.20,905.00C1342.90,900.02 1350.60,892.96 1358.30,891.10C1366.03,889.23 1373.77,888.66 1381.50,887.60C1396.93,885.48 1412.37,883.82 1427.80,881.90C1443.23,879.98 1458.67,877.67 1474.10,876.10C1488.03,874.68 1501.97,873.84 1515.90,872.50C1543.93,869.80 1571.97,866.50 1600.00,863.00C1630.87,859.14 1661.73,855.09 1692.60,850.00C1723.47,844.91 1754.33,839.09 1785.20,831.50C1796.80,828.65 1808.40,823.94 1820.00,821.20C1823.70,820.32 1827.40,819.88 1831.10,818.90C1836.67,817.42 1842.23,814.92 1847.80,812.40C1852.43,810.31 1857.07,808.05 1861.70,805.00C1866.33,801.95 1870.97,797.63 1875.60,793.00C1879.30,789.30 1883.00,783.97 1886.70,780.00C1889.17,777.35 1891.63,774.15 1894.10,772.60C1896.10,771.34 1898.10,769.80 1900.10,769.80C1901.80,769.80 1903.50,771.05 1905.20,772.60C1906.43,773.72 1907.67,777.44 1908.90,780.90C1910.13,784.36 1911.37,788.82 1912.60,794.80C1913.53,799.33 1914.47,807.71 1915.40,813.30C1916.30,818.69 1917.20,826.52 1918.10,828.10C1919.37,830.33 1920.63,831.90 1921.90,831.90C1927.73,831.90 1933.57,831.90 1939.40,831.90C1944.37,831.90 1949.33,829.74 1954.30,829.10C1990.53,824.42 2026.77,822.98 2063.00,819.90C2093.87,817.28 2124.73,812.00 2155.60,812.00C2194.93,812.00 2234.27,813.27 2273.60,813.90" fill="none" stroke="#000" stroke-width="7" stroke-linejoin="round" stroke-linecap="round"/>
<path d="M468.00,2317.50C477.07,2319.47 486.13,2321.96 495.20,2323.40C542.83,2330.96 590.47,2334.31 638.10,2339.30C691.00,2344.85 743.90,2350.35 796.80,2355.00C824.53,2357.44 852.27,2359.55 880.00,2361.70C888.83,2362.38 897.67,2362.93 906.50,2363.70C915.30,2364.46 924.10,2365.20 932.90,2366.40C939.53,2367.30 946.17,2368.72 952.80,2370.30C959.40,2371.87 966.00,2374.70 972.60,2376.30C979.20,2377.90 985.80,2378.88 992.40,2380.30C999.03,2381.73 1005.67,2383.81 1012.30,2384.90C1021.10,2386.35 1029.90,2387.23 1038.70,2388.20C1047.53,2389.17 1056.37,2389.86 1065.20,2390.80C1083.13,2392.71 1101.07,2394.72 1119.00,2397.20C1138.87,2399.95 1158.73,2402.94 1178.60,2407.10C1193.13,2410.14 1207.67,2414.04 1222.20,2419.00C1234.10,2423.06 1246.00,2428.30 1257.90,2434.90C1267.17,2440.04 1276.43,2448.02 1285.70,2454.80C1296.30,2462.55 1306.90,2472.26 1317.50,2478.60C1326.73,2484.12 1335.97,2491.94 1345.20,2492.50C1367.70,2493.87 1390.20,2493.88 1412.70,2494.40C1425.93,2494.71 1439.17,2494.53 1452.40,2495.20C1455.03,2495.33 1457.67,2507.75 1460.30,2510.30C1462.30,2512.23 1464.30,2514.30 1466.30,2514.30C1470.93,2514.30 1475.57,2507.70 1480.20,2506.30C1486.80,2504.31 1493.40,2502.84 1500.00,2502.40C1506.67,2501.96 1513.33,2501.97 1520.00,2501.60C1524.00,2501.38 1528.00,2500.86 1532.00,2500.60C1544.03,2499.82 1556.07,2499.73 1568.10,2498.80C1573.67,2498.37 1579.23,2497.77 1584.80,2496.50C1587.90,2495.79 1591.00,2493.70 1594.10,2491.90C1597.17,2490.11 1600.23,2487.96 1603.30,2485.40C1605.77,2483.34 1608.23,2481.03 1610.70,2478.00C1612.87,2475.34 1615.03,2471.61 1617.20,2467.80C1619.07,2464.52 1620.93,2460.37 1622.80,2456.70C1624.70,2452.97 1626.60,2450.59 1628.50,2445.60C1629.73,2442.36 1630.97,2437.01 1632.20,2431.70C1633.13,2427.68 1634.07,2421.82 1635.00,2417.80C1636.23,2412.49 1637.47,2408.53 1638.70,2403.90C1639.93,2399.27 1641.17,2394.96 1642.40,2390.00C1643.40,2385.98 1644.40,2381.37 1645.40,2377.10C1646.33,2373.11 1647.27,2369.73 1648.20,2365.20C1649.13,2360.67 1650.07,2355.22 1651.00,2349.40C1651.77,2344.62 1652.53,2338.69 1653.30,2333.50C1654.10,2328.09 1654.90,2322.90 1655.70,2317.60C1656.50,2312.30 1657.30,2306.98 1658.10,2301.70C1658.90,2296.42 1659.70,2290.06 1660.50,2285.90C1661.43,2281.05 1662.37,2278.14 1663.30,2274.00C1663.80,2271.78 1664.30,2269.68 1664.80,2267.10C1665.47,2263.66 1666.13,2259.63 1666.80,2255.20C1667.33,2251.66 1667.87,2246.52 1668.40,2243.30C1669.20,2238.48 1670.00,2235.37 1670.80,2231.40C1671.60,2227.43 1672.40,2223.47 1673.20,2219.50C1674.00,2215.53 1674.80,2211.08 1675.60,2207.60C1676.63,2203.10 1677.67,2198.86 1678.70,2195.70C1680.30,2190.80 1681.90,2185.98 1683.50,2183.80C1685.33,2181.30 1687.17,2178.70 1689.00,2178.70C1690.60,2178.70 1692.20,2181.16 1693.80,2183.80C1695.00,2185.78 1696.20,2191.21 1697.40,2195.70C1698.33,2199.19 1699.27,2202.82 1700.20,2207.60C1700.83,2210.85 1701.47,2215.63 1702.10,2219.50C1702.77,2223.57 1703.43,2227.78 1704.10,2231.40C1704.90,2235.74 1705.70,2238.48 1706.50,2243.30C1707.03,2246.52 1707.57,2251.66 1708.10,2255.20C1708.77,2259.63 1709.43,2263.24 1710.10,2267.10C1710.57,2269.80 1711.03,2272.28 1711.50,2275.00C1712.10,2278.50 1712.70,2281.70 1713.30,2285.90C1713.93,2290.33 1714.57,2296.55 1715.20,2301.70C1715.87,2307.12 1716.53,2312.30 1717.20,2317.60C1717.87,2322.90 1718.53,2328.67 1719.20,2333.50C1720.00,2339.30 1720.80,2344.12 1721.60,2349.40C1722.40,2354.68 1723.20,2360.57 1724.00,2365.20C1724.77,2369.64 1725.53,2373.42 1726.30,2377.10C1727.27,2381.74 1728.23,2385.61 1729.20,2390.00C1730.20,2394.54 1731.20,2399.74 1732.20,2403.90C1733.43,2409.04 1734.67,2413.17 1735.90,2417.80C1737.13,2422.43 1738.37,2427.82 1739.60,2431.70C1741.13,2436.52 1742.67,2439.99 1744.20,2444.00C1746.00,2448.71 1747.80,2454.35 1749.60,2457.80C1752.07,2462.53 1754.53,2466.11 1757.00,2468.90C1760.10,2472.40 1763.20,2474.65 1766.30,2477.20C1770.00,2480.24 1773.70,2483.49 1777.40,2485.60C1782.97,2488.77 1788.53,2490.52 1794.10,2493.00C1800.27,2495.75 1806.43,2498.53 1812.60,2501.30C1818.77,2504.07 1824.93,2506.82 1831.10,2509.60C1837.27,2512.38 1843.43,2515.24 1849.60,2518.00C1853.07,2519.55 1856.53,2520.92 1860.00,2522.60C1864.27,2524.67 1868.53,2526.93 1872.80,2529.50C1879.33,2533.44 1885.87,2538.46 1892.40,2543.20C1895.57,2545.50 1898.73,2547.53 1901.90,2550.30C1905.87,2553.76 1909.83,2558.27 1913.80,2563.00C1916.97,2566.77 1920.13,2569.37 1923.30,2575.70C1924.90,2578.90 1926.50,2585.21 1928.10,2591.60C1929.43,2596.92 1930.77,2604.70 1932.10,2611.40C1933.40,2617.93 1934.70,2625.35 1936.00,2631.30C1937.60,2638.63 1939.20,2646.03 1940.80,2651.10C1942.90,2657.75 1945.00,2665.06 1947.10,2667.00C1949.50,2669.22 1951.90,2671.00 1954.30,2671.00C1956.13,2671.00 1957.97,2668.56 1959.80,2665.40C1961.13,2663.10 1962.47,2653.44 1963.80,2647.10C1965.13,2640.76 1966.47,2633.72 1967.80,2627.30C1969.10,2621.04 1970.40,2612.67 1971.70,2609.00C1973.30,2604.48 1974.90,2600.78 1976.50,2599.50C1978.10,2598.22 1979.70,2597.10 1981.30,2597.10C1982.87,2597.10 1984.43,2599.22 1986.00,2601.90C1987.07,2603.72 1988.13,2610.05 1989.20,2615.40C1990.27,2620.75 1991.33,2627.99 1992.40,2635.20C1993.47,2642.41 1994.53,2649.80 1995.60,2659.00C1996.50,2666.76 1997.40,2677.38 1998.30,2686.40C1999.03,2693.75 1999.77,2701.39 2000.50,2708.20C2001.33,2715.94 2002.17,2722.17 2003.00,2730.00C2003.60,2735.64 2004.20,2742.20 2004.80,2748.20C2005.37,2753.86 2005.93,2759.33 2006.50,2765.00C2007.80,2778.00 2009.10,2789.86 2010.40,2804.60C2011.83,2820.85 2013.27,2842.60 2014.70,2860.00C2016.30,2879.43 2017.90,2898.31 2019.50,2915.00C2021.07,2931.34 2022.63,2944.96 2024.20,2960.00C2025.07,2968.32 2025.93,2978.70 2026.80,2985.00C2027.53,2990.33 2028.27,2995.52 2029.00,2998.00C2029.70,3000.37 2030.40,3003.00 2031.10,3003.00C2031.90,3003.00 2032.70,3000.79 2033.50,2999.00C2034.20,2997.43 2034.90,2994.61 2035.60,2992.00C2036.90,2987.15 2038.20,2983.70 2039.50,2975.00C2040.20,2970.32 2040.90,2961.79 2041.60,2950.00C2042.20,2939.90 2042.80,2917.67 2043.40,2900.00C2043.93,2884.30 2044.47,2866.67 2045.00,2850.00C2045.53,2833.33 2046.07,2816.17 2046.60,2800.00C2047.17,2782.82 2047.73,2765.35 2048.30,2750.00C2048.97,2731.94 2049.63,2711.36 2050.30,2700.00C2051.03,2687.51 2051.77,2678.83 2052.50,2671.80C2053.47,2662.53 2054.43,2659.47 2055.40,2650.00C2056.10,2643.14 2056.80,2628.30 2057.50,2621.70C2058.23,2614.78 2058.97,2611.21 2059.70,2605.80C2060.40,2600.64 2061.10,2594.25 2061.80,2590.00C2062.87,2583.52 2063.93,2578.36 2065.00,2574.10C2066.40,2568.51 2067.80,2563.85 2069.20,2560.30C2071.30,2554.97 2073.40,2551.13 2075.50,2547.60C2077.97,2543.45 2080.43,2539.43 2082.90,2537.00C2085.73,2534.21 2088.57,2531.93 2091.40,2530.70C2094.93,2529.16 2098.47,2528.57 2102.00,2527.50C2103.77,2526.97 2105.53,2525.94 2107.30,2525.90C2124.87,2525.55 2142.43,2525.55 2160.00,2525.50C2179.83,2525.44 2199.67,2525.40 2219.50,2525.40C2234.00,2525.40 2248.50,2530.14 2263.00,2530.70C2280.77,2531.39 2298.53,2531.50 2316.30,2531.90" fill="none" stroke="#000" stroke-width="7" stroke-linejoin="round" stroke-linecap="round"/>
<path d="M466.70,2448.40C476.20,2450.40 485.70,2452.82 495.20,2454.40C542.83,2462.31 590.47,2466.90 638.10,2472.20C691.00,2478.09 743.90,2483.26 796.80,2488.10C847.07,2492.70 897.33,2493.52 947.60,2500.80C956.73,2502.12 965.87,2505.29 975.00,2508.00C983.33,2510.48 991.67,2514.76 1000.00,2516.50C1013.23,2519.26 1026.47,2520.42 1039.70,2522.20C1066.13,2525.76 1092.57,2528.03 1119.00,2532.10C1145.47,2536.17 1171.93,2541.37 1198.40,2548.00C1216.93,2552.64 1235.47,2557.79 1254.00,2565.90C1264.57,2570.52 1275.13,2578.51 1285.70,2585.70C1296.30,2592.92 1306.90,2603.13 1317.50,2609.50C1328.07,2615.85 1338.63,2625.16 1349.20,2625.40C1375.67,2626.01 1402.13,2625.65 1428.60,2626.20C1437.83,2626.39 1447.07,2626.67 1456.30,2628.60C1458.30,2629.02 1460.30,2642.18 1462.30,2643.30C1464.30,2644.42 1466.30,2645.20 1468.30,2645.20C1472.20,2645.20 1476.10,2636.73 1480.00,2635.00C1486.67,2632.04 1493.33,2630.40 1500.00,2629.40C1504.00,2628.80 1508.00,2628.57 1512.00,2628.10C1518.20,2627.37 1524.40,2626.50 1530.60,2625.70C1535.20,2625.10 1539.80,2624.51 1544.40,2623.90C1549.03,2623.28 1553.67,2622.75 1558.30,2622.00C1563.57,2621.14 1568.83,2620.18 1574.10,2618.80C1577.17,2618.00 1580.23,2616.79 1583.30,2615.60C1586.10,2614.51 1588.90,2613.56 1591.70,2611.90C1594.47,2610.26 1597.23,2607.12 1600.00,2604.40C1603.10,2601.35 1606.20,2598.52 1609.30,2594.30C1611.43,2591.40 1613.57,2587.57 1615.70,2583.10C1617.27,2579.82 1618.83,2574.77 1620.40,2571.10C1621.80,2567.82 1623.20,2565.74 1624.60,2562.00C1625.90,2558.53 1627.20,2553.33 1628.50,2548.50C1630.03,2542.81 1631.57,2536.11 1633.10,2530.00C1634.37,2524.95 1635.63,2520.70 1636.90,2515.00C1637.80,2510.95 1638.70,2505.67 1639.60,2501.10C1640.83,2494.84 1642.07,2489.67 1643.30,2482.60C1644.23,2477.25 1645.17,2470.27 1646.10,2464.10C1647.03,2457.93 1647.97,2453.24 1648.90,2445.60C1649.50,2440.69 1650.10,2431.91 1650.70,2427.00C1651.63,2419.36 1652.57,2413.85 1653.50,2408.50C1654.73,2401.43 1655.97,2396.86 1657.20,2390.00C1657.90,2386.10 1658.60,2381.33 1659.30,2377.10C1659.97,2373.07 1660.63,2368.82 1661.30,2365.20C1662.10,2360.86 1662.90,2357.35 1663.70,2353.30C1664.47,2349.42 1665.23,2345.28 1666.00,2341.40C1666.80,2337.35 1667.60,2332.65 1668.40,2329.50C1669.47,2325.29 1670.53,2321.08 1671.60,2319.20C1673.43,2315.97 1675.27,2312.90 1677.10,2312.90C1678.97,2312.90 1680.83,2314.64 1682.70,2317.60C1683.50,2318.87 1684.30,2325.16 1685.10,2329.50C1685.77,2333.12 1686.43,2337.33 1687.10,2341.40C1687.73,2345.27 1688.37,2349.43 1689.00,2353.30C1689.67,2357.37 1690.33,2361.23 1691.00,2365.20C1691.67,2369.17 1692.33,2372.97 1693.00,2377.10C1693.67,2381.23 1694.33,2384.93 1695.00,2390.00C1695.67,2395.07 1696.33,2402.88 1697.00,2408.50C1697.80,2415.25 1698.60,2420.68 1699.40,2427.00C1700.17,2433.05 1700.93,2439.90 1701.70,2445.60C1702.60,2452.29 1703.50,2457.56 1704.40,2464.10C1705.20,2469.91 1706.00,2477.28 1706.80,2482.60C1707.87,2489.70 1708.93,2495.41 1710.00,2501.10C1710.93,2506.08 1711.87,2510.19 1712.80,2515.00C1713.73,2519.81 1714.67,2525.66 1715.60,2530.00C1717.13,2537.13 1718.67,2542.98 1720.20,2548.50C1721.37,2552.70 1722.53,2556.32 1723.70,2560.00C1725.23,2564.84 1726.77,2569.71 1728.30,2573.90C1730.17,2579.00 1732.03,2583.50 1733.90,2587.80C1736.07,2592.79 1738.23,2598.05 1740.40,2601.70C1742.87,2605.85 1745.33,2609.46 1747.80,2611.90C1751.50,2615.56 1755.20,2618.26 1758.90,2620.20C1764.47,2623.11 1770.03,2624.58 1775.60,2626.70C1780.53,2628.57 1785.47,2630.26 1790.40,2632.20C1797.80,2635.10 1805.20,2638.47 1812.60,2641.50C1818.77,2644.02 1824.93,2646.30 1831.10,2648.90C1840.73,2652.96 1850.37,2657.33 1860.00,2661.90C1870.30,2666.78 1880.60,2672.71 1890.90,2677.40C1893.93,2678.78 1896.97,2679.49 1900.00,2681.30C1906.83,2685.37 1913.67,2694.94 1920.50,2705.90C1923.93,2711.40 1927.37,2718.27 1930.80,2728.50C1934.20,2738.63 1937.60,2763.51 1941.00,2775.70C1943.73,2785.50 1946.47,2795.34 1949.20,2800.00C1950.93,2802.96 1952.67,2806.50 1954.40,2806.50C1956.10,2806.50 1957.80,2804.64 1959.50,2802.40C1962.23,2798.80 1964.97,2770.53 1967.70,2760.00C1970.10,2750.75 1972.50,2740.66 1974.90,2737.70C1976.60,2735.60 1978.30,2733.60 1980.00,2733.60C1981.62,2733.60 1983.25,2735.63 1984.87,2738.19C1985.98,2739.94 1987.08,2745.99 1988.19,2751.11C1989.29,2756.23 1990.40,2763.16 1991.50,2770.06C1992.61,2776.95 1993.71,2784.03 1994.82,2792.83C1995.75,2800.26 1996.68,2810.42 1997.61,2819.05C1998.37,2826.08 1999.13,2833.39 1999.89,2839.91C2000.76,2847.32 2001.62,2853.27 2002.48,2860.77C2003.11,2866.17 2003.73,2872.45 2004.35,2878.19C2004.94,2883.60 2005.52,2888.84 2006.11,2894.26C2007.46,2906.70 2008.80,2918.05 2010.15,2932.15C2011.64,2947.70 2013.12,2968.51 2014.61,2985.17C2016.27,3003.76 2017.92,3021.83 2019.58,3037.79C2021.20,3053.43 2022.83,3066.47 2024.45,3080.85C2025.35,3088.81 2026.25,3098.75 2027.14,3104.78C2027.90,3109.88 2028.66,3114.84 2029.42,3117.22C2030.15,3119.48 2030.87,3122.00 2031.60,3122.00C2032.40,3122.00 2033.20,3119.88 2034.00,3118.16C2034.70,3116.65 2035.40,3113.93 2036.10,3111.43C2037.40,3106.77 2038.70,3103.45 2040.00,3095.09C2040.70,3090.58 2041.40,3082.39 2042.10,3071.06C2042.70,3061.34 2043.30,3039.98 2043.90,3022.99C2044.43,3007.90 2044.97,2990.95 2045.50,2974.93C2046.03,2958.91 2046.57,2942.41 2047.10,2926.87C2047.67,2910.36 2048.23,2893.56 2048.80,2878.81C2049.47,2861.45 2050.13,2841.66 2050.80,2830.75C2051.53,2818.74 2052.27,2810.40 2053.00,2803.64C2053.97,2794.73 2054.93,2791.79 2055.90,2782.69C2056.60,2776.09 2057.30,2761.83 2058.00,2755.49C2058.73,2748.84 2059.47,2745.40 2060.20,2740.20C2060.90,2735.24 2061.60,2729.10 2062.30,2725.01C2063.37,2718.79 2064.43,2713.82 2065.50,2709.73C2066.90,2704.36 2068.30,2699.88 2069.70,2696.47C2071.80,2691.34 2073.90,2687.65 2076.00,2684.26C2078.47,2680.27 2080.93,2676.40 2083.40,2674.07C2086.23,2671.39 2089.07,2669.20 2091.90,2668.01C2095.43,2666.53 2098.97,2665.96 2102.50,2664.94C2104.27,2664.43 2106.03,2663.66 2107.80,2663.40C2120.80,2661.46 2133.80,2660.20 2146.80,2660.20C2154.87,2660.20 2162.93,2662.29 2171.00,2662.60C2191.20,2663.38 2211.40,2663.18 2231.60,2663.90C2248.53,2664.50 2265.47,2668.70 2282.40,2668.70C2293.70,2668.70 2305.00,2668.37 2316.30,2668.20" fill="none" stroke="#000" stroke-width="7" stroke-linejoin="round" stroke-linecap="round"/>
<path d="M471.40,2621.00C479.33,2622.60 487.27,2624.53 495.20,2625.80C542.83,2633.42 590.47,2637.71 638.10,2642.90C691.00,2648.66 743.90,2653.42 796.80,2658.70C847.07,2663.72 897.33,2665.67 947.60,2673.80C956.73,2675.28 965.87,2678.73 975.00,2681.00C983.33,2683.07 991.67,2685.34 1000.00,2686.90C1013.23,2689.38 1026.47,2691.07 1039.70,2692.90C1066.13,2696.55 1092.57,2698.95 1119.00,2702.80C1145.47,2706.66 1171.93,2711.19 1198.40,2716.70C1216.93,2720.56 1235.47,2723.82 1254.00,2730.60C1265.90,2734.95 1277.80,2744.81 1289.70,2752.40C1301.60,2759.99 1313.50,2769.93 1325.40,2776.20C1335.97,2781.77 1346.53,2789.21 1357.10,2790.10C1390.17,2792.89 1423.23,2790.51 1456.30,2794.00C1458.97,2794.28 1461.63,2807.83 1464.30,2807.90C1466.87,2807.97 1469.43,2808.00 1472.00,2808.00C1474.67,2808.00 1477.33,2803.77 1480.00,2802.40C1483.53,2800.59 1487.07,2799.03 1490.60,2798.20C1494.83,2797.20 1499.07,2796.53 1503.30,2796.10C1511.07,2795.31 1518.83,2795.20 1526.60,2794.50C1532.23,2793.99 1537.87,2793.17 1543.50,2792.40C1550.57,2791.44 1557.63,2790.51 1564.70,2789.20C1569.97,2788.22 1575.23,2787.22 1580.50,2785.50C1584.03,2784.35 1587.57,2782.38 1591.10,2780.20C1594.63,2778.02 1598.17,2775.09 1601.70,2771.70C1605.23,2768.31 1608.77,2764.08 1612.30,2759.00C1615.10,2754.98 1617.90,2749.35 1620.70,2744.20C1622.13,2741.56 1623.57,2738.80 1625.00,2736.00C1626.10,2733.85 1627.20,2732.34 1628.30,2729.40C1629.40,2726.46 1630.50,2721.07 1631.60,2716.10C1632.47,2712.19 1633.33,2706.99 1634.20,2702.90C1635.33,2697.55 1636.47,2693.09 1637.60,2688.00C1638.90,2682.16 1640.20,2676.47 1641.50,2670.00C1642.43,2665.35 1643.37,2659.90 1644.30,2655.00C1645.20,2650.28 1646.10,2646.30 1647.00,2641.10C1647.93,2635.70 1648.87,2628.77 1649.80,2622.60C1650.73,2616.43 1651.67,2610.27 1652.60,2604.10C1653.53,2597.93 1654.47,2592.41 1655.40,2585.60C1656.17,2580.01 1656.93,2572.59 1657.70,2567.00C1658.63,2560.19 1659.57,2554.78 1660.50,2548.50C1661.40,2542.44 1662.30,2535.07 1663.20,2530.00C1664.60,2522.12 1666.00,2514.95 1667.40,2510.40C1668.63,2506.40 1669.87,2502.18 1671.10,2501.10C1672.97,2499.47 1674.83,2498.30 1676.70,2498.30C1678.53,2498.30 1680.37,2499.76 1682.20,2502.00C1683.30,2503.34 1684.40,2509.17 1685.50,2515.00C1686.17,2518.53 1686.83,2525.53 1687.50,2530.00C1688.53,2536.92 1689.57,2541.37 1690.60,2548.50C1691.37,2553.79 1692.13,2560.82 1692.90,2567.00C1693.67,2573.18 1694.43,2579.42 1695.20,2585.60C1695.97,2591.78 1696.73,2597.93 1697.50,2604.10C1698.27,2610.27 1699.03,2617.02 1699.80,2622.60C1700.73,2629.39 1701.67,2635.81 1702.60,2641.10C1703.53,2646.39 1704.47,2650.78 1705.40,2655.00C1706.20,2658.62 1707.00,2661.17 1707.80,2665.00C1708.60,2668.83 1709.40,2673.65 1710.20,2678.50C1711.13,2684.16 1712.07,2691.64 1713.00,2697.00C1714.23,2704.09 1715.47,2710.07 1716.70,2715.60C1718.23,2722.48 1719.77,2729.36 1721.30,2734.10C1723.17,2739.87 1725.03,2743.67 1726.90,2748.00C1729.03,2752.95 1731.17,2758.09 1733.30,2761.90C1736.40,2767.43 1739.50,2772.66 1742.60,2775.70C1745.70,2778.74 1748.80,2780.75 1751.90,2782.50C1756.50,2785.10 1761.10,2786.95 1765.70,2788.70C1770.33,2790.47 1774.97,2791.74 1779.60,2793.30C1784.43,2794.93 1789.27,2796.62 1794.10,2798.30C1800.27,2800.45 1806.43,2802.37 1812.60,2804.80C1818.77,2807.23 1824.93,2810.64 1831.10,2813.10C1840.73,2816.94 1850.37,2819.51 1860.00,2823.30C1873.33,2828.54 1886.67,2832.40 1900.00,2841.30C1904.10,2844.04 1908.20,2849.21 1912.30,2853.70C1918.47,2860.46 1924.63,2863.90 1930.80,2876.20C1934.20,2882.98 1937.60,2905.83 1941.00,2919.30C1943.73,2930.13 1946.47,2944.72 1949.20,2950.00C1951.27,2953.99 1953.33,2958.30 1955.40,2958.30C1957.47,2958.30 1959.53,2955.44 1961.60,2952.10C1964.33,2947.68 1967.07,2919.71 1969.80,2911.10C1971.83,2904.69 1973.87,2899.10 1975.90,2896.70C1977.60,2894.69 1979.30,2892.60 1981.00,2892.60C1982.67,2892.60 1984.33,2894.44 1986.00,2896.77C1987.14,2898.35 1988.27,2903.84 1989.41,2908.49C1990.54,2913.13 1991.68,2919.42 1992.81,2925.68C1993.95,2931.93 1995.08,2938.36 1996.22,2946.34C1997.18,2953.08 1998.13,2962.30 1999.09,2970.13C1999.87,2976.51 2000.65,2983.14 2001.43,2989.06C2002.32,2995.78 2003.21,3001.18 2004.09,3007.98C2004.73,3012.88 2005.37,3018.58 2006.01,3023.78C2006.61,3028.70 2007.22,3033.45 2007.82,3038.37C2009.20,3049.65 2010.59,3059.96 2011.97,3072.75C2013.50,3086.86 2015.02,3105.74 2016.55,3120.85C2018.25,3137.72 2019.95,3154.11 2021.65,3168.60C2023.32,3182.78 2024.99,3194.61 2026.66,3207.67C2027.58,3214.89 2028.50,3223.90 2029.42,3229.37C2030.20,3234.00 2030.98,3238.51 2031.77,3240.66C2032.51,3242.72 2033.26,3245.00 2034.00,3245.00C2034.80,3245.00 2035.60,3243.08 2036.40,3241.53C2037.10,3240.17 2037.80,3237.72 2038.50,3235.45C2039.80,3231.25 2041.10,3228.25 2042.40,3220.70C2043.10,3216.63 2043.80,3209.23 2044.50,3199.00C2045.10,3190.23 2045.70,3170.94 2046.30,3155.60C2046.83,3141.97 2047.37,3126.67 2047.90,3112.20C2048.43,3097.74 2048.97,3082.84 2049.50,3068.81C2050.07,3053.90 2050.63,3038.73 2051.20,3025.41C2051.87,3009.73 2052.53,2991.87 2053.20,2982.01C2053.93,2971.17 2054.67,2963.64 2055.40,2957.53C2056.37,2949.49 2057.33,2946.83 2058.30,2938.61C2059.00,2932.66 2059.70,2919.78 2060.40,2914.05C2061.13,2908.05 2061.87,2904.94 2062.60,2900.25C2063.30,2895.77 2064.00,2890.22 2064.70,2886.54C2065.77,2880.92 2066.83,2876.43 2067.90,2872.74C2069.30,2867.88 2070.70,2863.84 2072.10,2860.76C2074.20,2856.13 2076.30,2852.80 2078.40,2849.73C2080.87,2846.13 2083.33,2842.64 2085.80,2840.53C2088.63,2838.11 2091.47,2836.14 2094.30,2835.07C2097.83,2833.73 2101.37,2833.21 2104.90,2832.29C2106.67,2831.83 2108.43,2830.90 2110.20,2830.90C2141.77,2830.90 2173.33,2830.90 2204.90,2830.90C2219.43,2830.90 2233.97,2834.06 2248.50,2834.50C2271.10,2835.19 2293.70,2835.30 2316.30,2835.70" fill="none" stroke="#000" stroke-width="7" stroke-linejoin="round" stroke-linecap="round"/>
<path d="M475.40,2773.80C483.33,2775.80 491.27,2778.53 499.20,2779.80C545.50,2787.19 591.80,2789.38 638.10,2793.70C691.00,2798.63 743.90,2803.52 796.80,2807.50C847.07,2811.28 897.33,2812.23 947.60,2817.50C956.73,2818.46 965.87,2820.35 975.00,2822.00C983.33,2823.51 991.67,2824.88 1000.00,2827.00C1006.60,2828.68 1013.20,2832.68 1019.80,2833.70C1046.27,2837.81 1072.73,2837.59 1099.20,2840.50C1116.40,2842.39 1133.60,2845.38 1150.80,2848.00C1166.67,2850.42 1182.53,2852.51 1198.40,2855.60C1214.27,2858.69 1230.13,2862.10 1246.00,2867.50C1256.60,2871.10 1267.20,2876.89 1277.80,2883.30C1284.40,2887.29 1291.00,2893.63 1297.60,2898.00C1308.20,2905.02 1318.80,2913.26 1329.40,2916.70C1341.30,2920.56 1353.20,2924.27 1365.10,2924.60C1384.93,2925.14 1404.77,2924.92 1424.60,2925.40C1434.53,2925.64 1444.47,2925.82 1454.40,2927.40C1457.03,2927.82 1459.67,2943.30 1462.30,2943.30C1465.60,2943.30 1468.90,2943.30 1472.20,2943.30C1480.13,2943.30 1488.07,2932.11 1496.00,2931.30C1507.90,2930.09 1519.80,2930.40 1531.70,2929.40C1537.80,2928.89 1543.90,2927.78 1550.00,2926.50C1555.00,2925.45 1560.00,2923.73 1565.00,2922.00C1570.00,2920.27 1575.00,2918.46 1580.00,2915.90C1583.70,2914.01 1587.40,2911.45 1591.10,2908.50C1595.10,2905.31 1599.10,2901.33 1603.10,2896.50C1606.20,2892.75 1609.30,2888.79 1612.40,2882.60C1614.57,2878.27 1616.73,2871.39 1618.90,2864.10C1620.43,2858.94 1621.97,2852.48 1623.50,2845.60C1624.73,2840.07 1625.97,2833.18 1627.20,2827.00C1628.43,2820.82 1629.67,2815.57 1630.90,2808.50C1631.83,2803.15 1632.77,2795.00 1633.70,2790.00C1634.77,2784.29 1635.83,2781.77 1636.90,2775.70C1637.77,2770.76 1638.63,2762.29 1639.50,2755.80C1640.40,2749.06 1641.30,2741.48 1642.20,2736.00C1643.50,2728.09 1644.80,2721.66 1646.10,2716.10C1647.57,2709.83 1649.03,2706.40 1650.50,2700.00C1651.57,2695.34 1652.63,2689.00 1653.70,2683.10C1654.47,2678.86 1655.23,2674.19 1656.00,2669.80C1657.03,2663.88 1658.07,2653.87 1659.10,2652.20C1661.27,2648.70 1663.43,2646.70 1665.60,2646.70C1667.73,2646.70 1669.87,2648.68 1672.00,2652.20C1673.00,2653.85 1674.00,2663.16 1675.00,2670.00C1675.83,2675.70 1676.67,2683.23 1677.50,2690.00C1678.53,2698.39 1679.57,2707.88 1680.60,2715.60C1681.50,2722.33 1682.40,2728.04 1683.30,2734.10C1684.23,2740.38 1685.17,2746.43 1686.10,2752.60C1687.03,2758.77 1687.97,2765.45 1688.90,2771.10C1690.03,2777.96 1691.17,2784.54 1692.30,2790.00C1693.77,2797.06 1695.23,2801.78 1696.70,2808.50C1697.93,2814.15 1699.17,2820.82 1700.40,2827.00C1701.63,2833.18 1702.87,2840.86 1704.10,2845.60C1705.90,2852.52 1707.70,2856.83 1709.50,2862.00C1711.33,2867.27 1713.17,2872.72 1715.00,2877.00C1717.07,2881.83 1719.13,2886.15 1721.20,2889.60C1724.00,2894.27 1726.80,2898.17 1729.60,2901.30C1733.83,2906.04 1738.07,2910.26 1742.30,2912.90C1747.60,2916.21 1752.90,2918.41 1758.20,2920.30C1767.03,2923.45 1775.87,2925.13 1784.70,2927.70C1791.73,2929.75 1798.77,2931.68 1805.80,2934.10C1812.87,2936.53 1819.93,2939.97 1827.00,2942.50C1838.00,2946.43 1849.00,2948.90 1860.00,2953.10C1880.27,2960.84 1900.53,2963.56 1920.80,2983.30C1927.10,2989.44 1933.40,3024.12 1939.70,3039.90C1943.60,3049.67 1947.50,3065.60 1951.40,3065.60C1956.13,3065.60 1960.87,3051.56 1965.60,3039.90C1967.73,3034.64 1969.87,3021.70 1972.00,3018.00C1973.83,3014.82 1975.67,3011.50 1977.50,3011.50C1979.28,3011.50 1981.05,3013.32 1982.83,3015.62C1984.04,3017.19 1985.25,3022.62 1986.46,3027.21C1987.67,3031.81 1988.88,3038.03 1990.09,3044.21C1991.30,3050.40 1992.51,3056.75 1993.72,3064.65C1994.74,3071.31 1995.77,3080.43 1996.79,3088.17C1997.62,3094.48 1998.45,3101.04 1999.28,3106.89C2000.23,3113.54 2001.17,3118.88 2002.12,3125.61C2002.80,3130.45 2003.48,3136.08 2004.16,3141.23C2004.80,3146.09 2005.45,3150.79 2006.09,3155.66C2007.57,3166.82 2009.04,3177.00 2010.52,3189.66C2012.14,3203.61 2013.77,3222.28 2015.39,3237.22C2017.21,3253.90 2019.02,3270.12 2020.84,3284.44C2022.62,3298.47 2024.39,3310.17 2026.17,3323.08C2027.15,3330.22 2028.14,3339.13 2029.12,3344.55C2029.95,3349.12 2030.79,3353.58 2031.62,3355.71C2032.41,3357.74 2033.21,3360.00 2034.00,3360.00C2034.80,3360.00 2035.60,3358.15 2036.40,3356.65C2037.10,3355.33 2037.80,3352.97 2038.50,3350.78C2039.80,3346.72 2041.10,3343.82 2042.40,3336.53C2043.10,3332.60 2043.80,3325.46 2044.50,3315.58C2045.10,3307.11 2045.70,3288.48 2046.30,3273.67C2046.83,3260.50 2047.37,3245.73 2047.90,3231.76C2048.43,3217.79 2048.97,3203.40 2049.50,3189.85C2050.07,3175.45 2050.63,3160.80 2051.20,3147.94C2051.87,3132.80 2052.53,3115.55 2053.20,3106.03C2053.93,3095.56 2054.67,3088.29 2055.40,3082.39C2056.37,3074.62 2057.33,3072.06 2058.30,3064.12C2059.00,3058.37 2059.70,3045.93 2060.40,3040.40C2061.13,3034.60 2061.87,3031.60 2062.60,3027.07C2063.30,3022.74 2064.00,3017.39 2064.70,3013.83C2065.77,3008.40 2066.83,3004.07 2067.90,3000.50C2069.30,2995.82 2070.70,2991.91 2072.10,2988.93C2074.20,2984.46 2076.30,2981.25 2078.40,2978.29C2080.87,2974.81 2083.33,2971.44 2085.80,2969.40C2088.63,2967.07 2091.47,2965.16 2094.30,2964.12C2097.83,2962.83 2101.37,2962.34 2104.90,2961.44C2106.67,2960.99 2108.43,2960.10 2110.20,2960.10C2146.63,2960.10 2183.07,2960.10 2219.50,2960.10C2239.67,2960.10 2259.83,2963.80 2280.00,2963.80C2292.90,2963.80 2305.80,2963.80 2318.70,2963.80" fill="none" stroke="#000" stroke-width="7" stroke-linejoin="round" stroke-linecap="round"/>
<path d="M467.50,2972.20C472.77,2973.53 478.03,2975.25 483.30,2976.20C534.90,2985.51 586.50,2989.57 638.10,2994.80C691.00,3000.16 743.90,3004.07 796.80,3008.70C849.73,3013.33 902.67,3015.93 955.60,3022.60C970.40,3024.46 985.20,3026.74 1000.00,3030.60C1006.60,3032.32 1013.20,3037.28 1019.80,3038.50C1052.87,3044.59 1085.93,3043.94 1119.00,3048.40C1145.47,3051.97 1171.93,3057.35 1198.40,3064.30C1218.23,3069.51 1238.07,3077.27 1257.90,3086.10C1271.13,3091.99 1284.37,3100.97 1297.60,3107.90C1309.50,3114.13 1321.40,3122.27 1333.30,3125.80C1341.23,3128.15 1349.17,3130.52 1357.10,3131.00C1373.00,3131.95 1388.90,3131.88 1404.80,3132.50C1420.67,3133.11 1436.53,3132.89 1452.40,3134.90C1455.03,3135.23 1457.67,3149.60 1460.30,3149.60C1464.27,3149.60 1468.23,3149.60 1472.20,3149.60C1480.13,3149.60 1488.07,3140.80 1496.00,3139.70C1507.33,3138.13 1518.67,3137.90 1530.00,3137.00C1540.00,3136.20 1550.00,3136.02 1560.00,3134.60C1566.30,3133.71 1572.60,3129.91 1578.90,3126.60C1584.23,3123.80 1589.57,3120.25 1594.90,3115.70C1599.27,3111.98 1603.63,3107.05 1608.00,3101.10C1611.40,3096.46 1614.80,3091.12 1618.20,3083.60C1620.63,3078.22 1623.07,3070.17 1625.50,3061.80C1627.00,3056.64 1628.50,3049.42 1630.00,3044.00C1631.83,3037.37 1633.67,3033.18 1635.50,3025.80C1636.90,3020.16 1638.30,3012.75 1639.70,3004.70C1640.77,2998.57 1641.83,2990.57 1642.90,2983.50C1643.97,2976.43 1645.03,2969.35 1646.10,2962.30C1647.17,2955.25 1648.23,2947.53 1649.30,2941.20C1650.30,2935.27 1651.30,2930.40 1652.30,2925.00C1653.20,2920.14 1654.10,2915.01 1655.00,2910.40C1655.63,2907.16 1656.27,2904.27 1656.90,2901.10C1657.50,2898.10 1658.10,2894.00 1658.70,2891.90C1659.93,2887.57 1661.17,2884.44 1662.40,2882.60C1664.57,2879.37 1666.73,2876.10 1668.90,2876.10C1671.07,2876.10 1673.23,2878.97 1675.40,2882.60C1676.30,2884.11 1677.20,2888.24 1678.10,2891.90C1678.73,2894.47 1679.37,2898.02 1680.00,2901.10C1680.63,2904.18 1681.27,2906.87 1681.90,2910.40C1682.40,2913.19 1682.90,2916.61 1683.40,2920.00C1684.37,2926.55 1685.33,2934.49 1686.30,2941.20C1687.37,2948.60 1688.43,2955.14 1689.50,2962.30C1690.53,2969.24 1691.57,2976.54 1692.60,2983.50C1693.67,2990.68 1694.73,2998.57 1695.80,3004.70C1697.20,3012.75 1698.60,3019.93 1700.00,3025.80C1701.80,3033.35 1703.60,3039.18 1705.40,3045.00C1707.43,3051.57 1709.47,3057.01 1711.50,3063.00C1714.33,3071.35 1717.17,3081.71 1720.00,3088.00C1723.90,3096.66 1727.80,3103.44 1731.70,3108.40C1734.47,3111.92 1737.23,3114.23 1740.00,3116.90C1743.53,3120.30 1747.07,3124.25 1750.60,3126.50C1754.13,3128.75 1757.67,3130.34 1761.20,3131.70C1768.23,3134.41 1775.27,3135.82 1782.30,3138.10C1789.37,3140.39 1796.43,3143.03 1803.50,3145.50C1810.57,3147.97 1817.63,3150.43 1824.70,3152.90C1831.73,3155.36 1838.77,3157.81 1845.80,3160.30C1854.63,3163.43 1863.47,3165.93 1872.30,3169.80C1877.57,3172.10 1882.83,3175.47 1888.10,3178.30C1892.07,3180.43 1896.03,3182.25 1900.00,3184.70C1906.93,3188.99 1913.87,3192.12 1920.80,3200.40C1927.10,3207.93 1933.40,3238.78 1939.70,3252.20C1944.07,3261.50 1948.43,3275.50 1952.80,3275.50C1957.07,3275.50 1961.33,3262.01 1965.60,3252.20C1967.90,3246.91 1970.20,3236.36 1972.50,3232.00C1974.17,3228.84 1975.83,3224.80 1977.50,3224.80C1980.90,3224.80 1984.30,3239.70 1987.70,3251.60C1990.17,3260.23 1992.63,3272.87 1995.10,3288.50C1996.93,3300.12 1998.77,3318.05 2000.60,3334.70C2002.47,3351.66 2004.33,3371.47 2006.20,3390.10C2008.03,3408.40 2009.87,3428.73 2011.70,3445.50C2013.53,3462.27 2015.37,3477.47 2017.20,3491.60C2019.37,3508.30 2021.53,3525.22 2023.70,3537.80C2025.57,3548.64 2027.43,3561.00 2029.30,3565.50C2030.83,3569.20 2032.37,3573.00 2033.90,3573.00C2035.13,3573.00 2036.37,3559.55 2037.60,3547.00C2038.50,3537.84 2039.40,3517.39 2040.30,3500.90C2041.23,3483.80 2042.17,3463.97 2043.10,3445.50C2044.03,3427.03 2044.97,3408.90 2045.90,3390.10C2046.80,3371.97 2047.70,3347.02 2048.60,3334.70C2049.83,3317.81 2051.07,3308.26 2052.30,3297.70C2053.53,3287.14 2054.77,3277.99 2056.00,3270.00C2057.87,3257.91 2059.73,3247.06 2061.60,3238.60C2064.07,3227.42 2066.53,3218.18 2069.00,3210.90C2072.07,3201.85 2075.13,3192.87 2078.20,3188.80C2083.13,3182.25 2088.07,3176.90 2093.00,3175.90C2098.67,3174.76 2104.33,3174.00 2110.00,3174.00C2144.87,3174.00 2179.73,3174.64 2214.60,3175.60C2230.73,3176.05 2246.87,3178.65 2263.00,3179.20C2281.57,3179.83 2300.13,3180.00 2318.70,3180.40" fill="none" stroke="#000" stroke-width="7" stroke-linejoin="round" stroke-linecap="round"/>
</svg>
</body></html>
